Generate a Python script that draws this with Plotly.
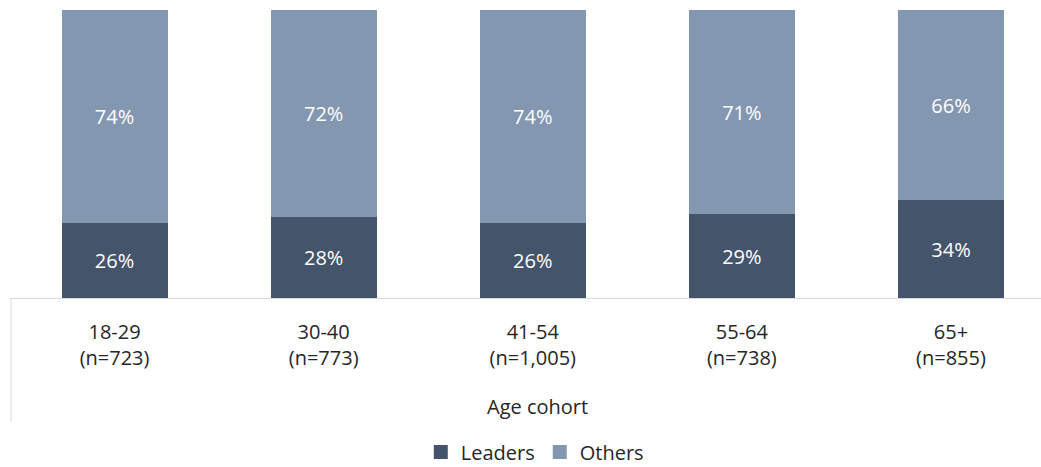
import plotly.graph_objects as go

# Age cohorts and sample sizes
cohorts = ["18-29", "30-40", "41-54", "55-64", "65+"]
sample_sizes = ["723", "773", "1,005", "738", "855"]

# Share of each cohort (percent)
leaders = [26, 28, 26, 29, 34]
others = [74, 72, 74, 71, 66]

FONT = "Open Sans"
FS = 20
LEADER_COLOR = "#44546A"
OTHER_COLOR = "#8497B0"
TEXT_COLOR = "#262626"

tick_text = [f"{c}<br>(n={n})" for c, n in zip(cohorts, sample_sizes)]
x_pos = list(range(len(cohorts)))

fig = go.Figure()
for name, vals, color in (("Leaders", leaders, LEADER_COLOR),
                          ("Others", others, OTHER_COLOR)):
    fig.add_trace(go.Bar(
        x=x_pos, y=vals, name=name, showlegend=False,
        marker=dict(color=color, line=dict(width=0)),
        text=[f"{v}%" for v in vals], textposition="inside",
        insidetextanchor="middle",
        textfont=dict(color="white", size=FS, family=FONT),
        width=0.507,
    ))
    # Legend entry with a larger square swatch
    fig.add_trace(go.Scatter(
        x=[None], y=[None], mode="markers", name=name,
        marker=dict(symbol="square", size=14, color=color, line=dict(width=0)),
        showlegend=True,
    ))

fig.update_layout(
    barmode="stack",
    width=1041, height=467,
    margin=dict(l=10, r=0, t=10, b=169, autoexpand=False),
    paper_bgcolor="white", plot_bgcolor="white",
    font=dict(family=FONT, color=TEXT_COLOR, size=FS),
    showlegend=True,
    legend=dict(
        orientation="h", x=0.509, xanchor="center", y=-0.535, yanchor="middle",
        font=dict(size=FS, color=TEXT_COLOR, family=FONT),
        itemwidth=30, traceorder="normal", borderwidth=0,
    ),
)
fig.update_xaxes(
    range=[-0.5, 4.4306],
    tickvals=x_pos, ticktext=tick_text,
    showline=True, linecolor="#D9D9D9", linewidth=1,
    ticks="", showgrid=False, zeroline=False,
    ticklabelstandoff=16, automargin=False,
    tickfont=dict(size=FS, color=TEXT_COLOR, family=FONT),
)
fig.update_yaxes(
    range=[0, 100], visible=False, showgrid=False, zeroline=False,
)

# Category-axis divider on the left edge
fig.add_shape(type="line", xref="paper", yref="paper",
              x0=0.001, x1=0.001, y0=0, y1=-0.43,
              line=dict(color="#D9D9D9", width=1))

# Axis title
fig.add_annotation(text="Age cohort", xref="paper", yref="paper",
                   x=0.512, y=-0.378, xanchor="center", yanchor="middle",
                   showarrow=False, font=dict(size=FS, color=TEXT_COLOR, family=FONT))

fig.write_html("out.html")
